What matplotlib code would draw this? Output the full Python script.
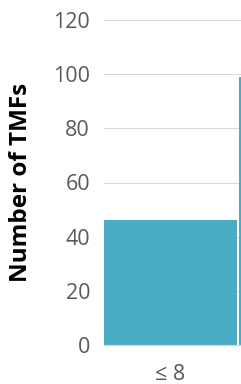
import matplotlib
matplotlib.use("Agg")
import matplotlib.pyplot as plt

categories = ["\u2264 8", "> 8"]
counts = [46, 99]
yticks = [0, 20, 40, 60, 80, 100, 120]

plt.rcParams['font.family'] = ['Open Sans', 'DejaVu Sans']

fig = plt.figure(figsize=(2.41, 3.84), dpi=100)
ax = fig.add_axes([104 / 241, 39 / 384, 1 - 104 / 241, 325 / 384])

width = 0.985
ax.bar(range(len(counts)), counts, width=width, color="#4BACC6", zorder=2)

ax.set_yticks(yticks)
ax.set_xticks(range(len(categories)))
ax.set_xticklabels(categories)
ax.set_ylim(0, 120)
ax.set_xlim(-width / 2, -width / 2 + 137 / 135)
ax.tick_params(axis='y', length=0, pad=10, labelsize=15.5, labelcolor="#595959")
ax.tick_params(axis='x', length=0, pad=14, labelsize=15.5, labelcolor="#595959")
ax.grid(axis='y', color="#D9D9D9", linewidth=0.8, zorder=0)
for spine in ['top', 'right', 'left']:
    ax.spines[spine].set_visible(False)
ax.spines['bottom'].set_color("#D9D9D9")
ax.spines['bottom'].set_linewidth(0.8)

ax.set_ylabel("Number of TMFs", fontsize=17.5, fontweight="bold")
ax.yaxis.set_label_coords(-(104 - 33) / 137, 0.5)

fig.savefig("out.png", dpi=100)
